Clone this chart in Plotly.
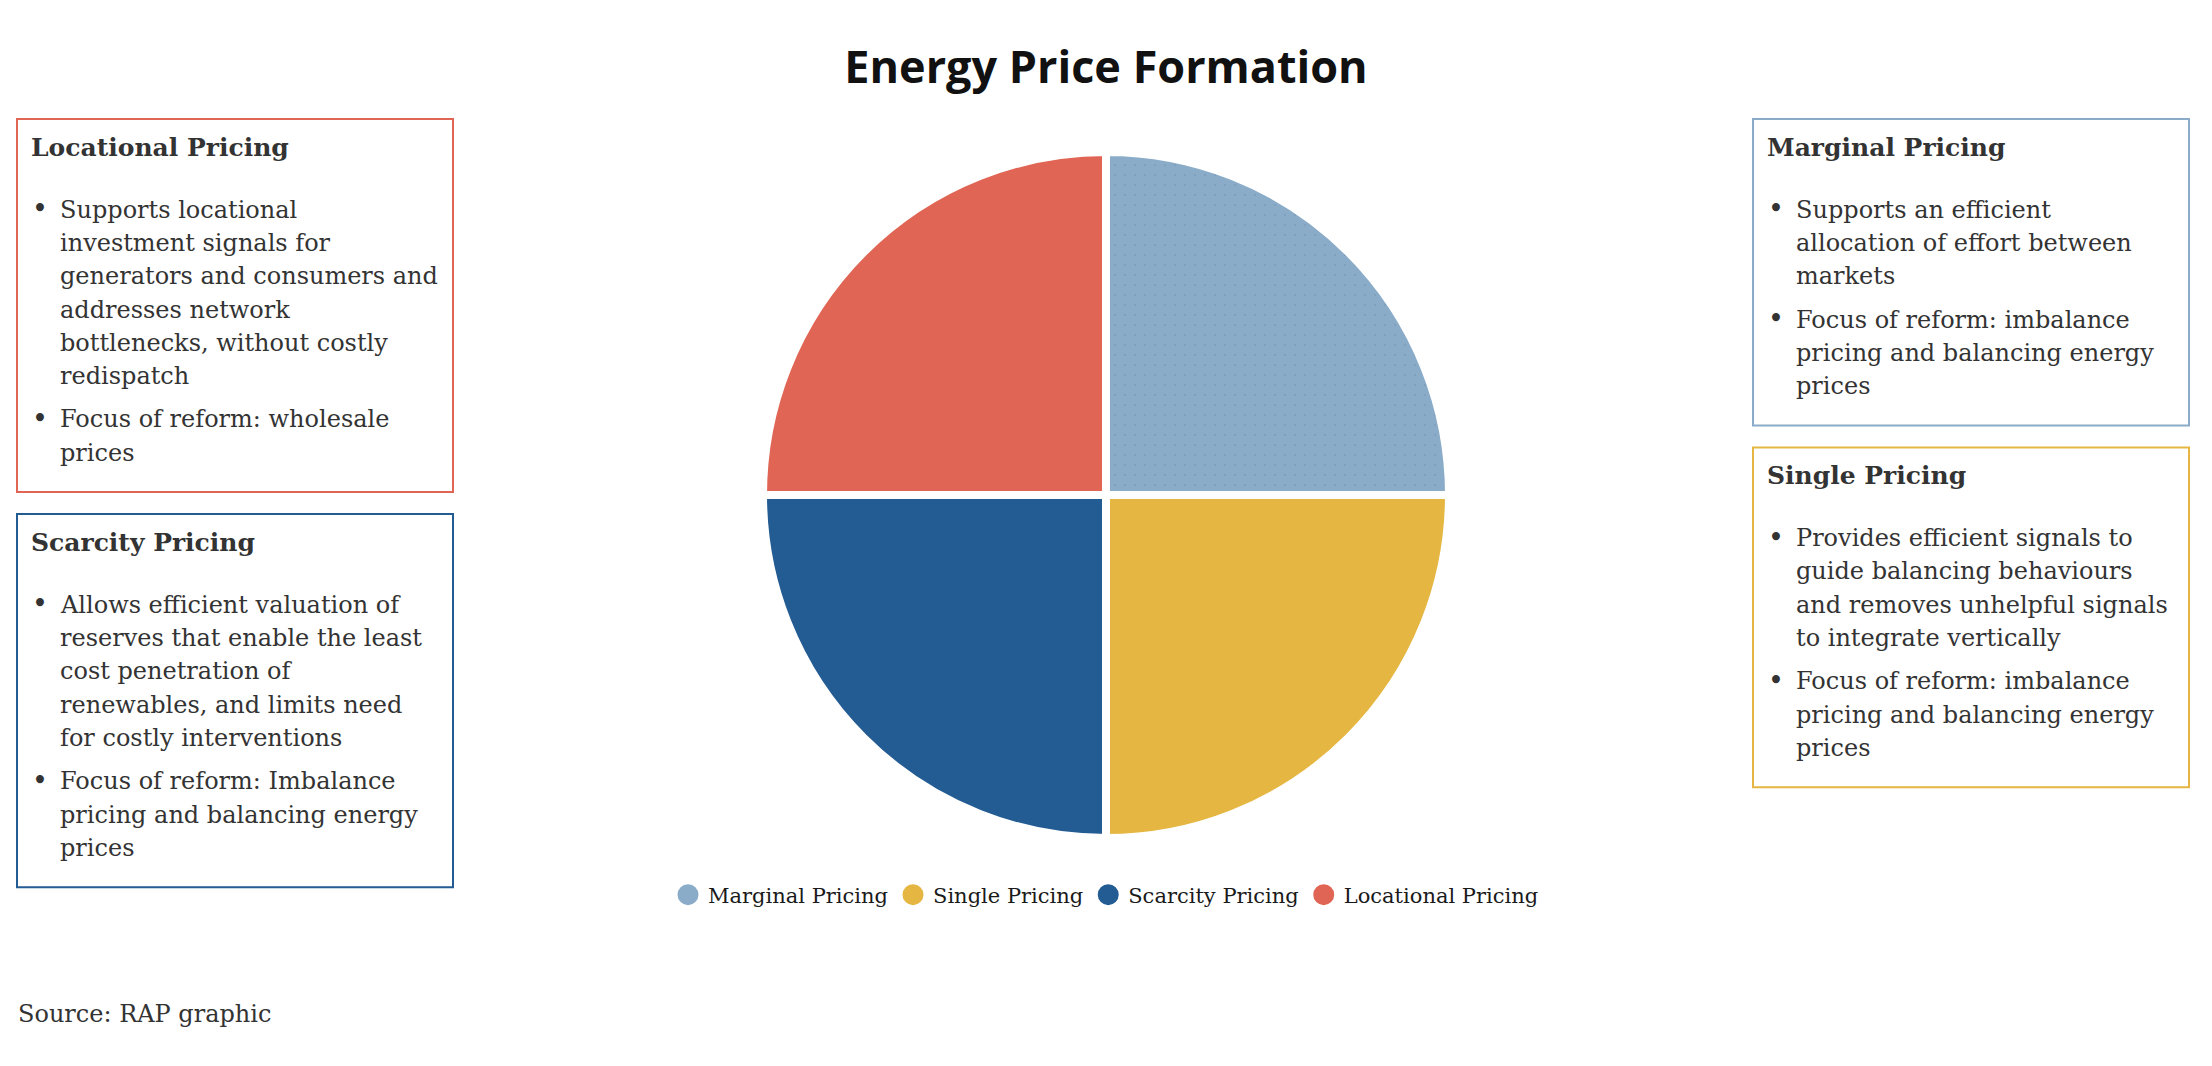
import plotly.graph_objects as go

W, H = 2212, 1066

# ---------------- data ----------------
categories = ["Marginal Pricing", "Single Pricing", "Scarcity Pricing", "Locational Pricing"]
shares = [25, 25, 25, 25]
colors = ["#8AACC8", "#E5B742", "#235B93", "#E06555"]

chart_title = "Energy Price Formation"
source_note = "Source: RAP graphic"

locational_bullets = [
    ["Supports locational", "investment signals for", "generators and consumers and",
     "addresses network", "bottlenecks, without costly", "redispatch"],
    ["Focus of reform: wholesale", "prices"],
]
scarcity_bullets = [
    ["Allows efficient valuation of", "reserves that enable the least", "cost penetration of",
     "renewables, and limits need", "for costly interventions"],
    ["Focus of reform: Imbalance", "pricing and balancing energy", "prices"],
]
marginal_bullets = [
    ["Supports an efficient", "allocation of effort between", "markets"],
    ["Focus of reform: imbalance", "pricing and balancing energy", "prices"],
]
single_bullets = [
    ["Provides efficient signals to", "guide balancing behaviours",
     "and removes unhelpful signals", "to integrate vertically"],
    ["Focus of reform: imbalance", "pricing and balancing energy", "prices"],
]

# ---------------- layout helpers ----------------
SERIF = "DejaVu Serif"
BODY_FS = 24
HEAD_FS = 25
TEXT_COLOR = "#333333"


def px(x):
    return x / W


def py(y):
    return 1 - y / H


annotations = []
shapes = []


def line_text(x, baseline, text, size=BODY_FS, color=TEXT_COLOR, anchor="left"):
    center = baseline - 0.346 * size
    annotations.append(dict(
        x=px(x), y=py(center), xref="paper", yref="paper",
        xanchor=anchor, yanchor="middle", showarrow=False,
        text=text, borderpad=0,
        font=dict(family=SERIF, size=size, color=color),
    ))


def add_box(x0, x1, top, title, bullets, color):
    baseline = top + 37
    line_text(x0 + 13, baseline, "<b>" + title + "</b>", size=HEAD_FS)
    baseline += 62
    last = baseline
    for i, lines in enumerate(bullets):
        if i:
            baseline += 10
        line_text(x0 + 23, baseline, "•", anchor="center", size=BODY_FS + 3)
        for ln in lines:
            line_text(x0 + 42, baseline, ln)
            last = baseline
            baseline += 33.3
    bottom = last + 31
    shapes.append(dict(
        type="rect", xref="paper", yref="paper",
        x0=px(x0), x1=px(x1), y0=py(top), y1=py(bottom),
        line=dict(color=color, width=2), fillcolor="rgba(0,0,0,0)",
    ))
    return bottom


LEFT = (17, 453)
RIGHT = (1753, 2189)
TOP = 119
GAP = 22

b = add_box(*LEFT, TOP, categories[3], locational_bullets, colors[3])
add_box(*LEFT, b + GAP, categories[2], scarcity_bullets, colors[2])
b = add_box(*RIGHT, TOP, categories[0], marginal_bullets, colors[0])
add_box(*RIGHT, b + GAP, categories[1], single_bullets, colors[1])

line_text(17, 1022, source_note, size=BODY_FS)

# ---------------- figure ----------------
fig = go.Figure()

cx, cy, r = 1106, 495, 343
fig.add_trace(go.Pie(
    labels=categories,
    values=shares,
    sort=False,
    direction="clockwise",
    rotation=0,
    textinfo="none",
    hoverinfo="label+percent",
    showlegend=False,
    marker=dict(
        colors=colors,
        line=dict(color="white", width=8),
        pattern=dict(shape=[".", "", "", ""], fgcolor="#5f7e9c", fillmode="overlay",
                     fgopacity=0.55, size=10, solidity=0.02),
    ),
    domain=dict(x=[px(cx - r), px(cx + r)], y=[py(cy + r), py(cy - r)]),
))

for name, c in zip(categories, colors):
    fig.add_trace(go.Scatter(
        x=[None], y=[None], mode="markers", name=name,
        marker=dict(size=24, color=c, symbol="circle", line=dict(color=c, width=5)),
        hoverinfo="skip", showlegend=True,
    ))

fig.update_layout(
    width=W, height=H,
    margin=dict(l=0, r=0, t=0, b=0),
    paper_bgcolor="white", plot_bgcolor="white",
    title=dict(text="<b>" + chart_title + "</b>", x=0.5, xanchor="center",
               y=py(67), yanchor="middle", yref="container",
               font=dict(family="Open Sans", size=45, color="#111111")),
    xaxis=dict(visible=False), yaxis=dict(visible=False),
    legend=dict(orientation="h", x=0.5, xanchor="center", y=py(895), yanchor="middle",
                font=dict(family=SERIF, size=21, color="#1a1a1a"),
                bgcolor="rgba(0,0,0,0)", itemclick=False, itemdoubleclick=False),
    annotations=annotations,
    shapes=shapes,
)

fig.write_html("out.html", config=dict(displayModeBar=False),
               post_script="document.body.style.margin='0';document.body.style.overflow='hidden';")
